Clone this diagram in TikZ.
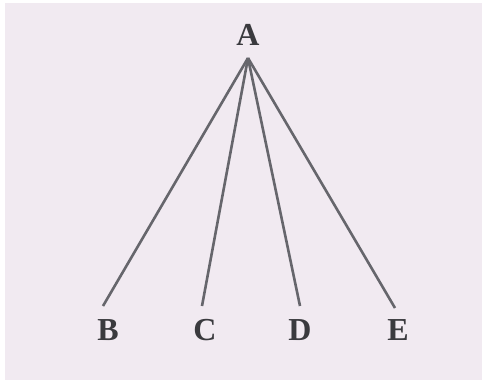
\documentclass[tikz,border=0pt]{standalone}
\usepackage{fontspec}
\setmainfont{Liberation Serif}
\definecolor{paper}{HTML}{F1EAF1}
\definecolor{ink}{HTML}{3A3A3E}
\definecolor{edge}{HTML}{66666C}
\begin{document}
\begin{tikzpicture}[x=1pt,y=-1pt,
  lab/.style={font=\fontsize{32}{32}\selectfont\bfseries, text=ink, inner sep=0pt},
  conn/.style={draw=edge, line width=2.6pt}]
\useasboundingbox (0,0) rectangle (482,385);
\fill[white] (0,0) rectangle (482,385);
\fill[paper] (5,3) rectangle (482,380);
\node[lab] (A) at (248,35) {A};
\node[lab] (B) at (108,330) {B};
\node[lab] (C) at (205,330) {C};
\node[lab] (D) at (300,330) {D};
\node[lab] (E) at (398,330) {E};
\coordinate (top) at (248,58);
\coordinate (b) at (103,306);
\coordinate (c) at (202,306);
\coordinate (d) at (300,306);
\coordinate (e) at (395,308);
\draw[conn] (top) -- (b);
\draw[conn] (top) -- (c);
\draw[conn] (top) -- (d);
\draw[conn] (top) -- (e);
\end{tikzpicture}
\end{document}
